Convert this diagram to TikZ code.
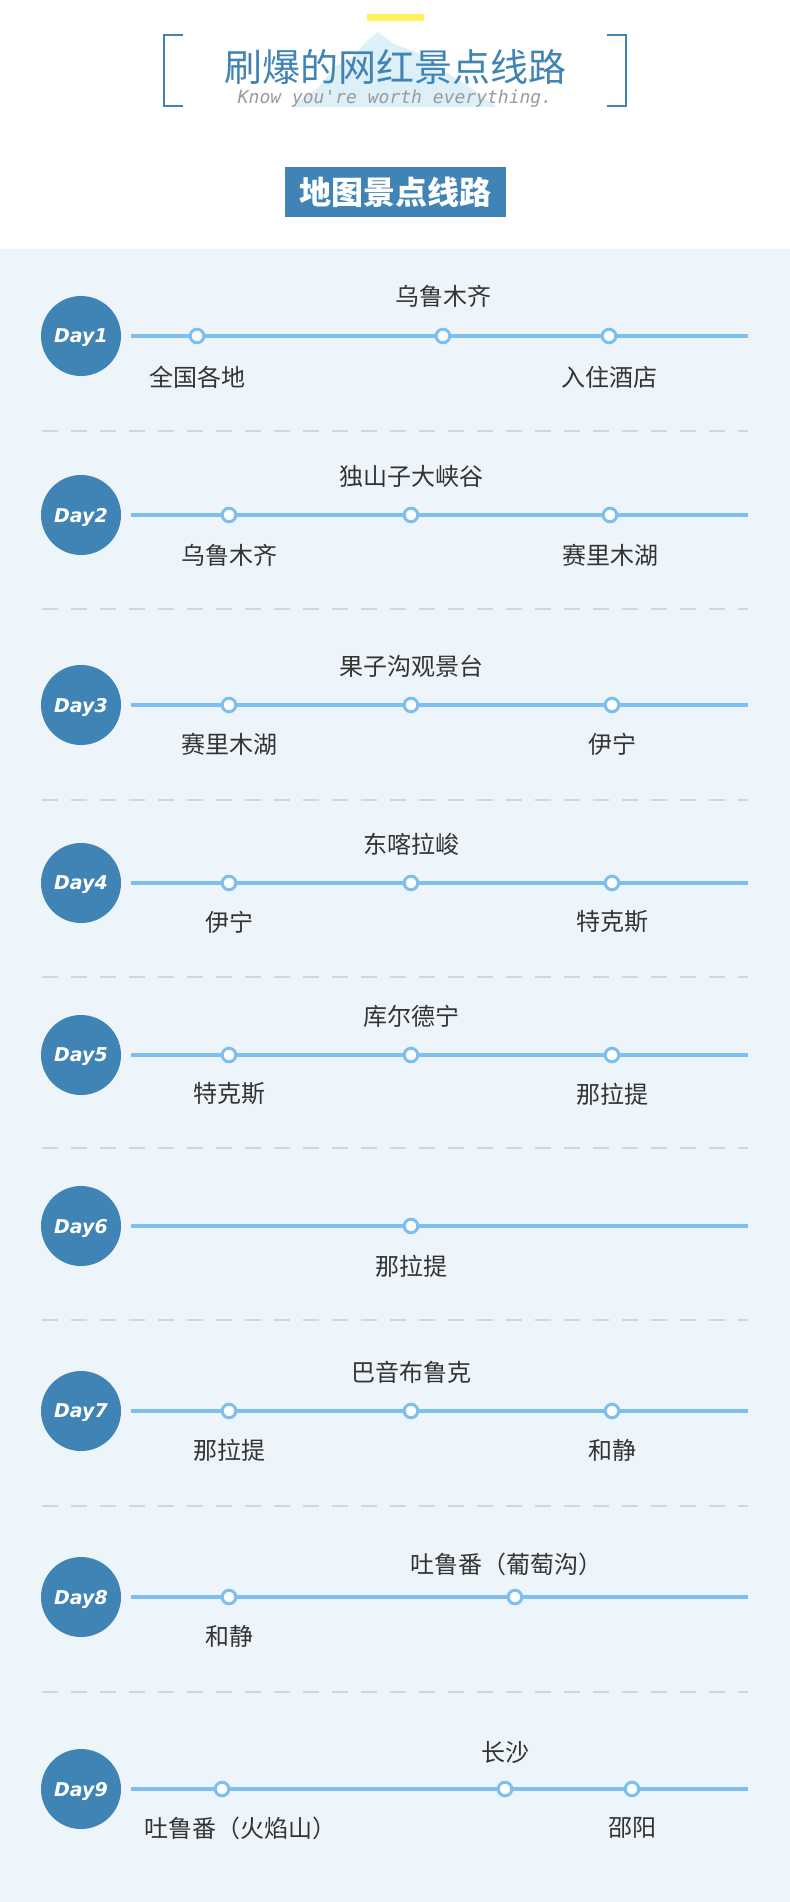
\documentclass[tikz,border=0pt]{standalone}
\usepackage{fontspec}
\setmainfont{DejaVu Sans}
\setmonofont{DejaVu Sans Mono}
\newfontfamily\cjk{Noto Sans CJK SC}
\usetikzlibrary{positioning}

\definecolor{daycol}{HTML}{3F84B4}
\definecolor{routecol}{HTML}{7DC0F0}
\definecolor{bgcol}{HTML}{EEF5FA}
\definecolor{sepcol}{HTML}{D3D6D9}
\definecolor{textcol}{HTML}{333333}
\definecolor{mountcol}{HTML}{DDEFF7}
\definecolor{barcol}{HTML}{FFF25A}
\definecolor{mottocol}{HTML}{9A9A9A}

\begin{document}
\begin{tikzpicture}[x=0.5pt, y=-0.5pt,
    daycircle/.style={circle, fill=daycol, minimum size=40pt, inner sep=0pt, text=white, text depth=0pt,
        font=\bfseries\itshape\fontsize{9.5}{10}\selectfont},
    stop/.style={circle, draw=routecol, line width=1.5pt, fill=white, minimum size=6.8pt, inner sep=0pt},
    place/.style={text=textcol, font=\cjk\fontsize{12}{14}\selectfont},
    route/.style={routecol, line width=2pt}]
    % Background
    \fill[white] (0,0) rectangle (790,1902);
    \fill[bgcol] (0,249) rectangle (790,1902);
    \useasboundingbox (0,0) rectangle (790,1902);

    % Header
    \fill[barcol] (367,14) rectangle (424,21);
    \fill[mountcol] (290,107) -- (318,88) -- (336,66) -- (352,58) -- (366,42) -- (378,32)
        -- (394,44) -- (416,52) -- (440,68) -- (462,82) -- (480,94) -- (497,107) -- cycle;
    \draw[daycol, line width=1pt] (183,35) -- (164,35) -- (164,106) -- (183,106);
    \draw[daycol, line width=1pt] (607,35) -- (626,35) -- (626,106) -- (607,106);
    \node[text=daycol, font=\cjk\fontsize{19}{21}\selectfont] (title) at (395,67) {刷爆的网红景点线路};
    \node[text=mottocol, font=\ttfamily\itshape\fontsize{9}{9}\selectfont] (motto) at (395,99) {Know you're worth everything.};
    \node[fill=daycol, text=white, font=\cjk\bfseries\fontsize{16}{18}\selectfont,
        minimum width=110.5pt, minimum height=25pt, inner sep=0pt] (maptitle) at (395.5,192) {地图景点线路};

    % Separators
    \foreach \y in {431,609,800,977,1148,1320,1506,1692}
        \draw[sepcol, line width=1pt, dash pattern=on 8pt off 6.5pt] (42,\y) -- (748,\y);

    % Day circles, routes and stops
    \foreach \d/\y/\xs in {1/336/{197,443,609}, 2/515/{229,411,610}, 3/705/{229,411,612},
        4/883/{229,411,612}, 5/1055/{229,411,612}, 6/1226/{411}, 7/1411/{229,411,612},
        8/1597/{229,515}, 9/1789/{222,505,632}} {
        \node[daycircle] (day\d) at (81,\y) {Day\d};
        \coordinate (end\d) at (748,\y);
        \draw[route] ([xshift=5pt]day\d.east) -- (end\d);
        \foreach \x [count=\i] in \xs
            \node[stop] (s\d-\i) at (\x,\y) {};
    }

    % Place names
    \node[place] (t1) at (443,296) {乌鲁木齐};
    \node[place] (b1a) at (197,377) {全国各地};
    \node[place] (b1b) at (609,377) {入住酒店};

    \node[place] (t2) at (411,476) {独山子大峡谷};
    \node[place] (b2a) at (229,555) {乌鲁木齐};
    \node[place] (b2b) at (610,555) {赛里木湖};

    \node[place] (t3) at (411,666) {果子沟观景台};
    \node[place] (b3a) at (229,744) {赛里木湖};
    \node[place] (b3b) at (612,744) {伊宁};

    \node[place] (t4) at (411,844) {东喀拉峻};
    \node[place] (b4a) at (229,922) {伊宁};
    \node[place] (b4b) at (612,922) {特克斯};

    \node[place] (t5) at (411,1016) {库尔德宁};
    \node[place] (b5a) at (229,1094) {特克斯};
    \node[place] (b5b) at (612,1094) {那拉提};

    \node[place] (b6) at (411,1266) {那拉提};

    \node[place] (t7) at (411,1372) {巴音布鲁克};
    \node[place] (b7a) at (229,1450) {那拉提};
    \node[place] (b7b) at (612,1450) {和静};

    \node[place] (t8) at (506,1564) {吐鲁番（葡萄沟）};
    \node[place] (b8) at (229,1636) {和静};

    \node[place] (t9) at (505,1753) {长沙};
    \node[place] (b9a) at (240,1828) {吐鲁番（火焰山）};
    \node[place] (b9b) at (632,1828) {邵阳};
\end{tikzpicture}
\end{document}
